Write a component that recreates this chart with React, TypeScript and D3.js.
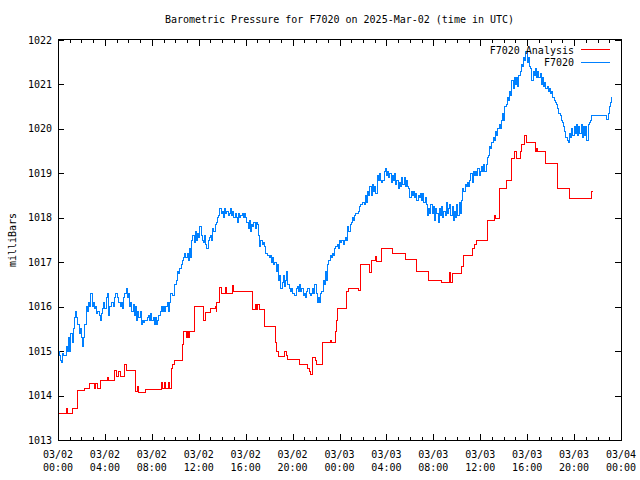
import React from "react";
import * as d3 from "d3";

const TITLE = "Barometric Pressure for F7020 on 2025-Mar-02 (time in UTC)";
const Y_LABEL = "milliBars";
const SERIES_NAMES = ["F7020 Analysis", "F7020"];
const SERIES_COLORS = ["#ff0000", "#0080ff"];

const yTicks = [1013, 1014, 1015, 1016, 1017, 1018, 1019, 1020, 1021, 1022];
const xTickHours = [0, 4, 8, 12, 16, 20, 24, 28, 32, 36, 40, 44, 48];
const xTickDates = ["03/02", "03/02", "03/02", "03/02", "03/02", "03/02", "03/03", "03/03", "03/03", "03/03", "03/03", "03/03", "03/04"];
const xTickTimes = ["00:00", "04:00", "08:00", "12:00", "16:00", "20:00", "00:00", "04:00", "08:00", "12:00", "16:00", "20:00", "00:00"];
const minorTickHours = d3.range(0, 49, 1);

// observed pressure, one reading every 0.1 h from 03/02 00:00 UTC
const OBS_STEP_H = 0.1;
const obsPressure = [
  1015.0, 1014.9, 1014.8, 1014.75, 1014.95, 1014.9, 1014.9, 1015.1, 1015.0, 1015.3,
  1015.0, 1015.4, 1015.2, 1015.5, 1015.75, 1015.9, 1015.75, 1015.6, 1015.4, 1015.5,
  1015.3, 1015.1, 1015.3, 1015.6, 1016.0, 1015.9, 1016.1, 1016.0, 1016.3, 1016.0,
  1016.1, 1015.95, 1016.0, 1015.85, 1015.9, 1015.8, 1015.7, 1015.85, 1015.95, 1016.1,
  1015.95, 1016.2, 1016.3, 1015.8, 1016.0, 1016.0, 1016.1, 1016.0, 1016.2, 1016.3,
  1016.3, 1016.2, 1016.1, 1016.0, 1016.1, 1015.95, 1016.2, 1016.3, 1016.4, 1016.2,
  1016.3, 1016.0, 1016.1, 1015.9, 1016.05, 1015.8, 1016.0, 1015.7, 1015.9, 1015.75,
  1015.9, 1015.6, 1015.7, 1015.65, 1015.7, 1015.7, 1015.75, 1015.8, 1015.7, 1015.85,
  1015.7, 1015.75, 1015.6, 1015.75, 1015.6, 1015.7, 1015.8, 1015.9, 1016.0, 1015.9,
  1016.0, 1015.9, 1016.0, 1016.1, 1015.9, 1016.1, 1016.3, 1016.3, 1016.25, 1016.5,
  1016.5, 1016.6, 1016.8, 1016.75, 1016.85, 1016.95, 1017.05, 1017.1, 1017.2, 1017.1,
  1017.2, 1017.05, 1017.3, 1017.1, 1017.5, 1017.6, 1017.45, 1017.7, 1017.5, 1017.65,
  1017.55, 1017.8, 1017.6, 1017.5, 1017.45, 1017.6, 1017.4, 1017.3, 1017.5, 1017.55,
  1017.6, 1017.5, 1017.75, 1017.7, 1017.85, 1017.9, 1018.0, 1018.05, 1018.2, 1018.1,
  1018.15, 1018.0, 1018.2, 1018.1, 1018.15, 1018.05, 1018.1, 1018.2, 1018.05, 1018.15,
  1018.0, 1018.1, 1018.0, 1017.9, 1018.1, 1018.0, 1018.05, 1018.1, 1018.0, 1018.1,
  1018.0, 1017.9, 1017.75, 1017.95, 1017.7, 1017.85, 1017.8, 1017.9, 1017.75, 1017.9,
  1017.85, 1017.6, 1017.35, 1017.5, 1017.4, 1017.45, 1017.35, 1017.2, 1017.2, 1017.15,
  1017.1, 1017.15, 1017.0, 1017.1, 1016.95, 1017.0, 1016.8, 1016.95, 1016.6, 1016.7,
  1016.4, 1016.55, 1016.7, 1016.45, 1016.6, 1016.8, 1016.5, 1016.4, 1016.35, 1016.4,
  1016.3, 1016.3, 1016.25, 1016.4, 1016.45, 1016.35, 1016.5, 1016.35, 1016.4, 1016.25,
  1016.3, 1016.2, 1016.35, 1016.4, 1016.3, 1016.25, 1016.3, 1016.4, 1016.3, 1016.5,
  1016.3, 1016.1, 1016.2, 1016.1, 1016.3, 1016.35, 1016.6, 1016.5, 1016.8, 1016.6,
  1016.95, 1017.05, 1017.15, 1017.1, 1017.2, 1017.15, 1017.3, 1017.35, 1017.4, 1017.3,
  1017.5, 1017.45, 1017.5, 1017.4, 1017.5, 1017.55, 1017.5, 1017.8, 1017.7, 1017.85,
  1017.9, 1018.0, 1017.95, 1018.05, 1018.1, 1018.1, 1018.15, 1018.25, 1018.3, 1018.3,
  1018.35, 1018.3, 1018.5, 1018.35, 1018.6, 1018.5, 1018.7, 1018.5, 1018.75, 1018.6,
  1018.7, 1018.55, 1018.95, 1018.85, 1019.0, 1018.85, 1018.8, 1018.85, 1019.05, 1019.1,
  1018.95, 1019.05, 1018.9, 1019.0, 1018.8, 1018.95, 1018.85, 1019.0, 1018.75, 1018.85,
  1018.65, 1018.8, 1018.7, 1018.9, 1018.75, 1018.9, 1018.7, 1018.85, 1018.7, 1018.65,
  1018.45, 1018.6, 1018.5, 1018.6, 1018.45, 1018.55, 1018.4, 1018.5, 1018.45, 1018.55,
  1018.4, 1018.55, 1018.35, 1018.45, 1018.3, 1018.05, 1018.2, 1018.1, 1018.3, 1018.1,
  1018.25, 1017.95, 1018.2, 1018.1, 1017.9, 1018.2, 1018.05, 1018.25, 1018.0, 1018.15,
  1018.05, 1018.35, 1018.1, 1018.2, 1018.3, 1018.05, 1018.25, 1017.95, 1018.15, 1018.0,
  1018.3, 1018.05, 1018.35, 1018.1, 1018.4, 1018.65, 1018.6, 1018.75, 1018.7, 1018.8,
  1018.7, 1018.85, 1019.0, 1018.8, 1019.05, 1018.95, 1019.05, 1018.95, 1019.1, 1018.95,
  1019.05, 1019.15, 1019.05, 1019.2, 1019.05, 1019.2, 1019.35, 1019.4, 1019.6, 1019.55,
  1019.7, 1019.8, 1019.75, 1019.95, 1019.85, 1020.0, 1020.1, 1020.0, 1020.2, 1020.35,
  1020.2, 1020.5, 1020.55, 1020.7, 1020.65, 1020.85, 1020.75, 1021.1, 1020.9, 1021.15,
  1021.0, 1021.15, 1020.95, 1021.2, 1021.3, 1021.45, 1021.4, 1021.6, 1021.55, 1021.75,
  1021.5, 1021.6, 1021.4, 1021.35, 1021.1, 1021.3, 1021.2, 1021.35, 1021.15, 1021.3,
  1021.15, 1021.25, 1021.0, 1021.15, 1020.95, 1021.05, 1020.9, 1020.95, 1020.85, 1020.9,
  1020.8, 1020.85, 1020.7, 1020.65, 1020.6, 1020.55, 1020.45, 1020.35, 1020.3, 1020.2,
  1020.15, 1020.05, 1019.95, 1019.8, 1019.75, 1019.7, 1019.9, 1019.8, 1020.0, 1019.85,
  1020.05, 1019.9, 1020.1, 1019.85, 1020.05, 1019.9, 1020.1, 1019.8, 1020.05, 1019.85,
  1020.05, 1019.75, 1020.1, 1020.15, 1020.2, 1020.3, 1020.3, 1020.3, 1020.3, 1020.3,
  1020.3, 1020.3, 1020.3, 1020.3, 1020.3, 1020.3, 1020.3, 1020.3, 1020.22, 1020.35,
  1020.5, 1020.6, 1020.72,
];

// analysis pressure: [hour since 03/02 00:00 UTC, value], held until next entry
const analysisSteps: [number, number][] = [
  [0, 1013.6], [0.75, 1013.72], [0.85, 1013.6], [1.2, 1013.7], [1.7, 1014.12],
  [2.3, 1014.15], [2.65, 1014.27], [3.1, 1014.15], [3.2, 1014.27], [3.4, 1014.15],
  [3.6, 1014.33], [4.2, 1014.4], [4.3, 1014.33], [4.85, 1014.57], [5.0, 1014.42],
  [5.2, 1014.55], [5.3, 1014.42], [5.65, 1014.69], [5.8, 1014.56], [6.6, 1014.09],
  [6.75, 1014.2], [6.9, 1014.08], [7.5, 1014.13], [8.8, 1014.3], [8.9, 1014.15],
  [9.1, 1014.3], [9.2, 1014.15], [9.4, 1014.3], [9.5, 1014.15], [9.65, 1014.6],
  [9.8, 1014.7], [9.95, 1014.78], [10.6, 1015.15], [10.7, 1015.44], [10.95, 1015.3],
  [11.05, 1015.44], [11.15, 1015.3], [11.25, 1015.44], [11.6, 1015.7], [11.65, 1016.0],
  [12.4, 1015.7], [12.55, 1015.88], [13.0, 1015.95], [13.4, 1016.0], [13.5, 1015.9],
  [13.55, 1016.1], [13.75, 1016.43], [13.9, 1016.3], [14.25, 1016.43], [14.35, 1016.3],
  [14.85, 1016.47], [15.0, 1016.35], [16.6, 1015.94], [16.8, 1016.05], [16.9, 1015.94],
  [17.05, 1016.05], [17.15, 1015.94], [17.6, 1015.56], [18.55, 1015.2], [18.65, 1015.0],
  [18.8, 1014.89], [19.3, 1015.0], [19.45, 1014.9], [19.6, 1014.81], [20.55, 1014.69],
  [21.25, 1014.6], [21.45, 1014.55], [21.55, 1014.48], [21.7, 1014.86], [21.95, 1014.8],
  [22.05, 1014.69], [22.55, 1015.19], [22.9, 1015.2], [23.2, 1015.25], [23.3, 1015.2],
  [23.65, 1015.45], [23.75, 1015.7], [23.85, 1015.96], [24.6, 1016.34], [24.8, 1016.41],
  [25.6, 1016.37], [25.75, 1016.96], [26.6, 1016.76], [26.7, 1017.05], [27.05, 1017.12],
  [27.15, 1017.01], [27.6, 1017.3], [28.55, 1017.2], [29.6, 1017.07], [30.6, 1016.79],
  [31.6, 1016.6], [32.7, 1016.55], [33.4, 1016.76], [33.5, 1016.55], [33.6, 1016.75],
  [34.4, 1016.9], [34.55, 1017.16], [35.3, 1017.3], [35.5, 1017.4], [35.7, 1017.5],
  [36.6, 1017.95], [37.2, 1018.05], [37.3, 1017.99], [37.65, 1018.66], [38.2, 1018.85],
  [38.65, 1019.34], [38.95, 1019.49], [39.05, 1019.34], [39.4, 1019.5], [39.5, 1019.64],
  [39.8, 1019.86], [39.95, 1019.69], [40.7, 1019.49], [40.8, 1019.56], [40.9, 1019.49],
  [41.6, 1019.22], [42.6, 1018.66], [43.6, 1018.44], [45.5, 1018.59], [45.6, 1018.59],
];

const W = 640;
const H = 480;
const LEFT = 58;
const RIGHT = 621;
const TOP = 40;
const BOTTOM = 440;
const FONT = "'DejaVu Sans Mono', 'Liberation Mono', monospace";

export default function App() {
  const x = d3.scaleLinear().domain([0, 48]).range([LEFT, RIGHT]);
  const y = d3.scaleLinear().domain([1013, 1022]).range([BOTTOM, TOP]);

  const obsPoints: [number, number][] = obsPressure.map((v, i) => [i * OBS_STEP_H, v]);
  const obsGen = d3
    .line<[number, number]>()
    .x((d) => x(d[0]))
    .y((d) => y(d[1]))
    .curve(d3.curveStepAfter);
  const stepGen = d3
    .line<[number, number]>()
    .x((d) => x(d[0]))
    .y((d) => y(d[1]))
    .curve(d3.curveStepAfter);

  const majorSet = new Set(xTickHours);

  return (
    <svg
      width={W}
      height={H}
      style={{ position: "absolute", left: 0, top: 0, background: "#fff" }}
      fontFamily={FONT}
      fontSize={10}
    >
      <rect x={0} y={0} width={W} height={H} fill="#fff" />
      <text x={(LEFT + RIGHT) / 2} y={23} textAnchor="middle" fill="#000">
        {TITLE}
      </text>
      <text transform={`translate(16, ${(TOP + BOTTOM) / 2}) rotate(-90)`} textAnchor="middle" fill="#000">
        {Y_LABEL}
      </text>

      {/* ticks */}
      <g shapeRendering="crispEdges" stroke="#000" strokeWidth={1}>
        {yTicks.map((t) => (
          <g key={"y" + t}>
            <line x1={LEFT} x2={LEFT + 6} y1={Math.round(y(t)) + 0.5} y2={Math.round(y(t)) + 0.5} />
            <line x1={RIGHT - 6} x2={RIGHT} y1={Math.round(y(t)) + 0.5} y2={Math.round(y(t)) + 0.5} />
          </g>
        ))}
        {minorTickHours.map((h) => {
          const len = majorSet.has(h) ? 6 : 3;
          const xp = Math.round(x(h)) + 0.5;
          return (
            <g key={"x" + h}>
              <line x1={xp} x2={xp} y1={BOTTOM} y2={BOTTOM - len} />
              <line x1={xp} x2={xp} y1={TOP} y2={TOP + len} />
            </g>
          );
        })}
      </g>
      {yTicks.map((t) => (
        <text key={"yl" + t} x={LEFT - 6} y={y(t) + 3.5} textAnchor="end" fill="#000">
          {t}
        </text>
      ))}
      {xTickHours.map((h, i) => (
        <g key={"xl" + h}>
          <text x={x(h)} y={458} textAnchor="middle" fill="#000">
            {xTickDates[i]}
          </text>
          <text x={x(h)} y={471} textAnchor="middle" fill="#000">
            {xTickTimes[i]}
          </text>
        </g>
      ))}

      {/* series */}
      <path
        d={stepGen(analysisSteps) || ""}
        fill="none"
        stroke={SERIES_COLORS[0]}
        strokeWidth={1}
        shapeRendering="crispEdges"
      />
      <path
        d={obsGen(obsPoints) || ""}
        fill="none"
        stroke={SERIES_COLORS[1]}
        strokeWidth={1}
        shapeRendering="crispEdges"
      />

      {/* legend */}
      {SERIES_NAMES.map((name, i) => (
        <g key={name}>
          <text x={574} y={53.5 + i * 12.7} textAnchor="end" fill="#000">
            {name}
          </text>
          <line
            x1={581}
            x2={610}
            y1={49.5 + i * 13}
            y2={49.5 + i * 13}
            stroke={SERIES_COLORS[i]}
            strokeWidth={1}
            shapeRendering="crispEdges"
          />
        </g>
      ))}

      {/* frame */}
      <rect
        x={LEFT + 0.5}
        y={TOP - 0.5}
        width={RIGHT - LEFT}
        height={BOTTOM - TOP + 1}
        fill="none"
        stroke="#000"
        strokeWidth={1}
        shapeRendering="crispEdges"
      />
    </svg>
  );
}
